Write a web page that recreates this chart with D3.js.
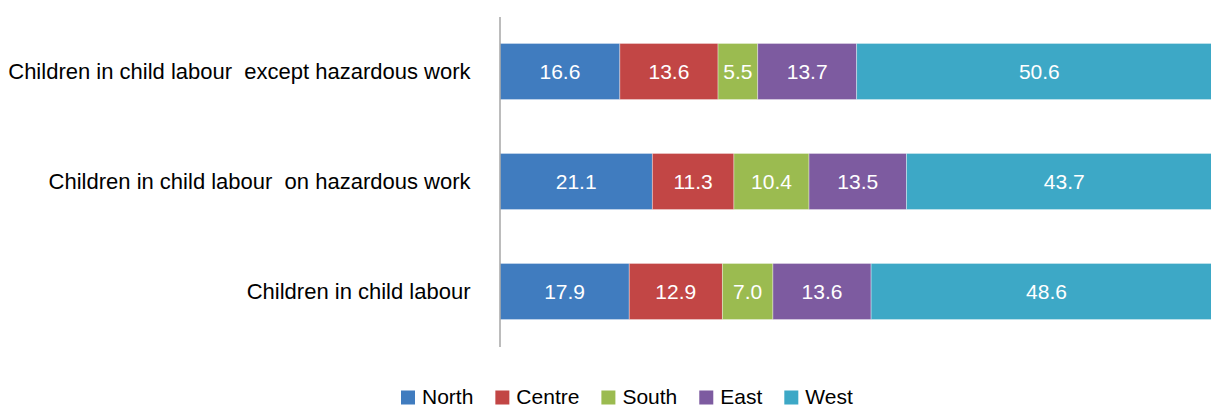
<!DOCTYPE html>
<html>
<head>
<meta charset="utf-8">
<script src="https://cdn.jsdelivr.net/npm/d3@7"></script>
<style>
  body { margin: 0; background: #fff; }
  svg { display: block; font-family: "Liberation Sans", Arial, sans-serif; }
</style>
</head>
<body>
<svg width="1211" height="409"></svg>
<script>
var categories = ["Children in child labour  except hazardous work",
                  "Children in child labour  on hazardous work",
                  "Children in child labour"];
var regions = ["North", "Centre", "South", "East", "West"];
var north  = [16.6, 21.1, 17.9];
var centre = [13.6, 11.3, 12.9];
var south  = [5.5, 10.4, 7.0];
var east   = [13.7, 13.5, 13.6];
var west   = [50.6, 43.7, 48.6];
var colors = ["#407cbf", "#c24645", "#9bbb50", "#7d5ba0", "#3da8c6"];

var seriesValues = [north, centre, south, east, west];

var svg = d3.select("svg");

var x = d3.scaleLinear().domain([0, 100]).range([500, 1222]);
var y = d3.scaleBand().domain(categories).range([16.5, 346.5])
  .paddingInner(0.49).paddingOuter(0.245);

// rows for d3.stack
var rows = categories.map(function(c, i) {
  var r = {cat: c};
  regions.forEach(function(reg, k) { r[reg] = seriesValues[k][i]; });
  return r;
});
var stacked = d3.stack().keys(regions)(rows);

var layers = svg.selectAll("g.layer")
  .data(stacked)
  .enter().append("g")
  .attr("class", "layer")
  .attr("fill", function(d, i) { return colors[i]; });

layers.selectAll("rect")
  .data(function(d) { return d; })
  .enter().append("rect")
  .attr("x", function(d) { return x(d[0]); })
  .attr("y", function(d) { return y(d.data.cat); })
  .attr("width", function(d) { return x(d[1]) - x(d[0]); })
  .attr("height", y.bandwidth())
  .attr("stroke", "#fff")
  .attr("stroke-opacity", 0.45)
  .attr("stroke-width", 0.8);

layers.selectAll("text")
  .data(function(d) { return d; })
  .enter().append("text")
  .attr("x", function(d) { return (x(d[0]) + x(d[1])) / 2; })
  .attr("y", function(d) { return y(d.data.cat) + y.bandwidth() / 2; })
  .attr("dy", "0.36em")
  .attr("text-anchor", "middle")
  .attr("fill", "#fff")
  .style("font-size", "21px")
  .text(function(d) { return (d[1] - d[0]).toFixed(1); });

// category axis
var yAxis = svg.append("g")
  .attr("transform", "translate(499.5,0)")
  .call(d3.axisLeft(y).tickSize(0).tickPadding(29));
yAxis.select(".domain").attr("stroke", "#a6a6a6").attr("stroke-width", 1.5);
yAxis.selectAll("text")
  .attr("fill", "#000")
  .style("font-size", "22px")
  .style("font-family", "\"Liberation Sans\", Arial, sans-serif")
  .style("white-space", "pre");

// legend
var legend = svg.append("g").attr("transform", "translate(401,389.5)");
var lx = 0;
regions.forEach(function(reg, i) {
  var g = legend.append("g").attr("transform", "translate(" + lx + ",0)");
  g.append("rect").attr("y", 1).attr("width", 14).attr("height", 14).attr("fill", colors[i]);
  var t = g.append("text")
    .attr("x", 21)
    .attr("y", 7)
    .attr("dy", "0.36em")
    .style("font-size", "21px")
    .attr("fill", "#000")
    .text(reg);
  lx += 21 + t.node().getComputedTextLength() + 22;
});
</script>
</body>
</html>
